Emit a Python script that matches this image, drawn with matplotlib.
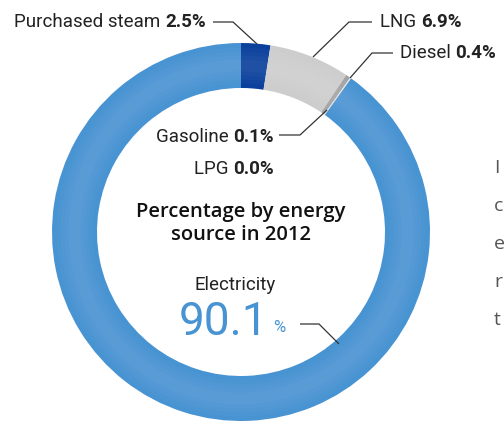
import matplotlib.pyplot as plt
from matplotlib.patches import Wedge

sources = ['Purchased steam', 'LNG', 'Diesel', 'Gasoline', 'LPG', 'Electricity']
shares = [2.5, 6.9, 0.4, 0.1, 0.0, 90.1]
colors = ['#0b409c', '#cdcdcd', '#a3a3a3', '#e4e4e4', '#e4e4e4', '#4893d2']

W, H = 504, 421
cx, cy = 241, H - 232
r_out, ring = 189, 45

cond = ['Liberation Sans Narrow', 'Roboto', 'DejaVu Sans']
title_font = ['Open Sans', 'DejaVu Sans']
txt = '#222222'

fig = plt.figure(figsize=(W / 100, H / 100), dpi=100)
ax = fig.add_axes([0, 0, 1, 1])

ax.pie(shares, colors=colors, startangle=90, counterclock=False,
       center=(cx, cy), radius=r_out,
       wedgeprops=dict(width=ring, edgecolor='none'))
# soft lighter band through the middle of the ring
mid = r_out - ring / 2
for half in [18, 14, 10, 6]:
    ax.add_patch(Wedge((cx, cy), mid + half, 0, 360, width=2 * half,
                       facecolor='white', alpha=0.025, edgecolor='none'))

ax.set_xlim(0, W)
ax.set_ylim(0, H)
ax.set_aspect('equal')
ax.axis('off')


def y(v):
    return H - v


def leader(pts):
    xs = [p[0] for p in pts]
    ys = [y(p[1]) for p in pts]
    ax.plot(xs, ys, color='#333333', lw=0.9, solid_capstyle='butt')


def label(x, yy, name, pct, ha='left'):
    if ha == 'left':
        t = ax.text(x, y(yy), name + ' ', fontsize=13.5, family=cond,
                    color=txt, ha='left', va='center')
        fig.canvas.draw()
        bb = t.get_window_extent().transformed(ax.transData.inverted())
        ax.text(bb.x1, y(yy), pct, fontsize=13.5, family=cond, weight='bold',
                color=txt, ha='left', va='center')
    else:
        t = ax.text(x, y(yy), pct, fontsize=13.5, family=cond, weight='bold',
                    color=txt, ha='right', va='center')
        fig.canvas.draw()
        bb = t.get_window_extent().transformed(ax.transData.inverted())
        ax.text(bb.x0, y(yy), name + ' ', fontsize=13.5, family=cond,
                color=txt, ha='right', va='center')


pct = [f'{v:.1f}%' for v in shares]

label(206, 22, sources[0], pct[0], ha='right')
leader([(213, 22), (233, 22), (257, 44)])

label(380, 22, sources[1], pct[1])
leader([(372, 22), (349, 22), (313, 57)])

label(400, 53, sources[2], pct[2])
leader([(393, 53), (372, 53), (350, 78)])

label(274, 137, sources[3], pct[3], ha='right')
leader([(279, 135), (300, 135), (327, 110)])
label(274, 169, sources[4], pct[4], ha='right')

ax.text(cx, y(224), 'Percentage by energy\nsource in 2012', fontsize=14.5,
        family=title_font, weight='semibold', color='#111111',
        ha='center', va='center', linespacing=1.2)

ax.text(235, y(285), sources[5], fontsize=13.5, family=cond, color=txt,
        ha='center', va='center')
ax.text(268, y(322), f'{shares[5]:.1f}', fontsize=33, family=cond,
        color='#4893d2', ha='right', va='center')
ax.text(273, y(328), '%', fontsize=12, family=cond, color='#4893d2',
        ha='left', va='center')
leader([(300, 324), (319, 324), (339, 344)])

# first letters of the neighbouring paragraph, at the figure's right edge
for i, w in enumerate(['I', 'c', 'e', 'r', 't']):
    ax.text(494, y(168 + 38 * i), w, fontsize=14, family=title_font,
            color='#555555', ha='left', va='center')

fig.savefig('out.png', dpi=100)
